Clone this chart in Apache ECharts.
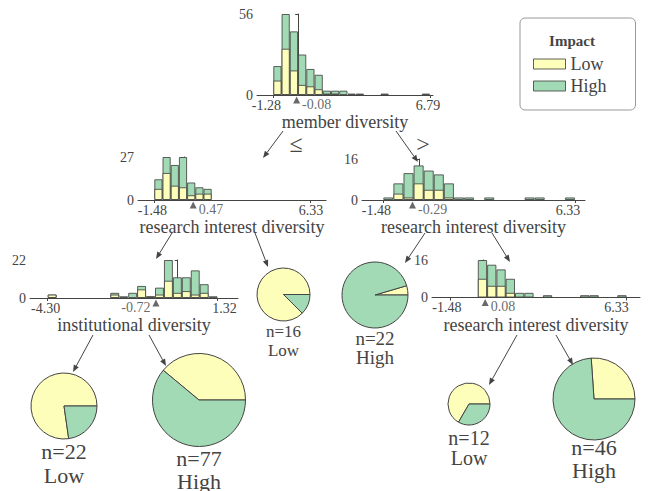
<!DOCTYPE html>
<html>
<head>
<meta charset="utf-8">
<script src="https://cdn.jsdelivr.net/npm/echarts@6/dist/echarts.min.js"></script>
<style>
html, body { margin: 0; padding: 0; background: #fff; }
#main { width: 648px; height: 491px; }
</style>
</head>
<body>
<div id="main"></div>
<script>
var BIN_COUNT = 19;

// root: member diversity
var rootRange = [-1.28, 6.79];
var rootSplit = -0.08;
var rootLow  = [10, 32, 17, 7, 6, 4, 1, 1, 0, 0, 0, 0, 0, 0, 0, 0, 0, 0, 0];
var rootHigh = [10, 24, 27, 21, 12, 10, 2, 2, 3, 1, 1, 0, 0, 1, 0, 0, 0, 0, 1];

// left child: research interest diversity
var leftRange = [-1.48, 6.33];
var leftSplit = 0.47;
var leftLow  = [7, 17, 9, 8, 3, 4, 4, 0, 0, 0, 0, 0, 0, 0, 0, 0, 0, 0, 0];
var leftHigh = [6, 10, 13, 19, 8, 4, 3, 0, 0, 0, 0, 0, 0, 0, 0, 0, 0, 0, 0];

// right child: research interest diversity
var rightRange = [-1.48, 6.33];
var rightSplit = -0.29;
var rightLow  = [0, 2.5, 1, 6.5, 4, 4, 1, 0, 0, 0, 0, 0, 0, 0, 0, 0, 0, 0, 0];
var rightHigh = [1, 4, 9.5, 7, 7.5, 6, 5.5, 1, 1, 0, 1, 0, 0, 0, 1, 1, 0, 0, 1];

// left-left: institutional diversity
var instRange = [-4.30, 1.32];
var instSplit = -0.72;
var instLow  = [2, 0, 0, 0, 0, 0, 0, 2, 0, 0, 5, 1, 2, 10, 3, 4, 2, 3, 0];
var instHigh = [0, 0, 0, 0, 0, 0, 0, 1, 1, 3, 2, 0, 4, 12, 9, 8, 14, 5, 1];

// right-right: research interest diversity
var rrRange = [-1.48, 6.33];
var rrSplit = 0.08;
var rrLow  = [0, 0, 0, 8, 5, 5, 2, 0, 0, 0, 0, 0, 0, 0, 0, 0, 0, 0, 0];
var rrHigh = [0, 0, 0, 8, 9, 7, 6, 2, 2, 0, 1, 0, 0, 0, 1, 1, 0, 0, 1];

// leaves
var leafLow   = [17, 30, 14, 1, 8, 12];
var leafHigh  = [5, 47, 2, 21, 4, 34];
var leafClass = ['Low', 'High', 'Low', 'High', 'Low', 'High'];

var INK = '#444443';
var EDGE = 'rgba(68,68,67,0.85)';
var YELLOW = '#fefebb';
var GREEN = '#a1dab4';
var FONT = "'Liberation Serif', 'DejaVu Serif', serif";

var nodes = [
  { feature: 'member diversity', range: rootRange, split: rootSplit, yMax: 56, low: rootLow, high: rootHigh },
  { feature: 'research interest diversity', range: leftRange, split: leftSplit, yMax: 27, low: leftLow, high: leftHigh },
  { feature: 'research interest diversity', range: rightRange, split: rightSplit, yMax: 16, low: rightLow, high: rightHigh },
  { feature: 'institutional diversity', range: instRange, split: instSplit, yMax: 22, low: instLow, high: instHigh },
  { feature: 'research interest diversity', range: rrRange, split: rrSplit, yMax: 16, low: rrLow, high: rrHigh }
];

// pixel layout of each histogram panel; shift = horizontal nudge of the min/max tick labels
var boxes = [
  { left: 257, right: 433, top: 14, bottom: 95, loPx: 273.3, hiPx: 430, nameGap: 13, side: 'right', shift: [-7, -2] },
  { left: 138, right: 326, top: 157, bottom: 200, loPx: 154.3, hiPx: 310.1, nameGap: 15, side: 'right', shift: [-2, 1] },
  { left: 362, right: 585, top: 159, bottom: 200, loPx: 383.3, hiPx: 575, nameGap: 16, side: 'right', shift: [-7, -7] },
  { left: 30, right: 238, top: 260, bottom: 298, loPx: 47.7, hiPx: 217.6, nameGap: 16, side: 'left', shift: [-2, 7] },
  { left: 432, right: 640, top: 260, bottom: 297.5, loPx: 449.9, hiPx: 626.6, nameGap: 18, side: 'right', shift: [-3, -10] }
];

// leaf order: n=22 Low, n=77 High, n=16 Low, n=22 High, n=12 Low, n=46 High
var pieBoxes = [
  { cx: 64, cy: 406, r: 33, ty: 439, fs: 22, lh: 24 },
  { cx: 199, cy: 400, r: 46.5, ty: 447, fs: 22, lh: 23 },
  { cx: 283.5, cy: 294.5, r: 26.5, ty: 322, fs: 17, lh: 19 },
  { cx: 375, cy: 295, r: 33, ty: 329, fs: 19, lh: 19 },
  { cx: 469, cy: 404, r: 21, ty: 428, fs: 20, lh: 20 },
  { cx: 594, cy: 399, r: 41, ty: 436, fs: 22, lh: 23 }
];

var arrows = [
  [283, 131, 263, 158], [396, 131, 418, 162],
  [172, 233, 156, 259], [255, 233, 268, 267],
  [425, 233, 405, 263], [492, 233, 510, 262],
  [93, 335, 73, 372], [149, 335, 166, 366],
  [517, 335, 489, 385], [556, 335, 573, 365]
];

function arrow(x1, y1, x2, y2) {
  var a = Math.atan2(y2 - y1, x2 - x1), L = 7, W = 2.8;
  var bx = x2 - L * Math.cos(a), by = y2 - L * Math.sin(a);
  var px = -Math.sin(a) * W, py = Math.cos(a) * W;
  return [
    { type: 'line', silent: true, shape: { x1: x1, y1: y1, x2: bx, y2: by }, style: { stroke: INK, lineWidth: 1 } },
    { type: 'polygon', silent: true, shape: { points: [[x2, y2], [bx + px, by + py], [bx - px, by - py]] }, style: { fill: INK } }
  ];
}

function nudge(d) {
  // rich padding that moves a centred label by d pixels
  return { fontFamily: FONT, fontSize: 14, color: INK, padding: d < 0 ? [0, -2 * d, 0, 0] : [0, 0, 0, 2 * d] };
}

var grids = [], xAxes = [], yAxes = [], series = [];

nodes.forEach(function (n, i) {
  var b = boxes[i];
  var s = (n.range[1] - n.range[0]) / (b.hiPx - b.loPx);
  var step = (n.range[1] - n.range[0]) / BIN_COUNT;
  var barW = (b.hiPx - b.loPx) / BIN_COUNT;
  var centers = n.low.map(function (v, k) { return n.range[0] + (k + 0.5) * step; });

  grids.push({ left: b.left, top: b.top, width: b.right - b.left, height: b.bottom - b.top, outerBoundsMode: 'none' });

  xAxes.push({
    gridIndex: i, type: 'value',
    min: n.range[0] - (b.loPx - b.left) * s,
    max: n.range[1] + (b.right - b.hiPx) * s,
    name: n.feature, nameLocation: 'middle', nameGap: b.nameGap,
    nameTextStyle: { fontFamily: FONT, fontSize: 18, color: INK },
    axisLine: { show: true, onZero: false, lineStyle: { color: INK, width: 1 } },
    axisTick: { show: true, customValues: n.range, length: 3, lineStyle: { color: INK } },
    axisLabel: {
      customValues: n.range, margin: 3, fontFamily: FONT, fontSize: 14, color: INK,
      formatter: function (v) { return (v === n.range[0] ? '{lo|' : '{hi|') + v.toFixed(2) + '}'; },
      rich: { lo: nudge(b.shift[0]), hi: nudge(b.shift[1]) }
    },
    splitLine: { show: false }
  });

  yAxes.push({
    gridIndex: i, type: 'value', min: 0, max: n.yMax, interval: n.yMax,
    axisLine: { show: true, lineStyle: { color: INK, width: 1 } },
    axisTick: { show: true, length: 3, lineStyle: { color: INK } },
    axisLabel: { margin: 4, fontFamily: FONT, fontSize: 14, color: INK },
    splitLine: { show: false }
  });

  series.push({
    type: 'bar', name: 'High', xAxisIndex: i, yAxisIndex: i, barWidth: barW, barGap: '-100%', silent: true,
    itemStyle: { color: GREEN, borderColor: EDGE, borderWidth: 1 },
    data: n.high.map(function (v, k) { var t = v + n.low[k]; return t ? [centers[k], t] : '-'; })
  });
  series.push({
    type: 'bar', name: 'Low', xAxisIndex: i, yAxisIndex: i, barWidth: barW, barGap: '-100%', silent: true,
    itemStyle: { color: YELLOW, borderColor: EDGE, borderWidth: 1 },
    data: n.low.map(function (v, k) { return v ? [centers[k], v] : '-'; })
  });
  series.push({
    type: 'scatter', xAxisIndex: i, yAxisIndex: i, clip: false, silent: true, z: 5,
    symbol: 'triangle', symbolSize: 7, symbolOffset: [0, 5],
    itemStyle: { color: INK },
    label: { show: true, position: b.side, distance: 2, offset: [0, 4],
      formatter: n.split.toFixed(2), fontFamily: FONT, fontSize: 14, color: INK },
    data: [[n.split, 0]]
  });
});

var graphic = [];
arrows.forEach(function (a) { graphic = graphic.concat(arrow(a[0], a[1], a[2], a[3])); });
graphic.push({ type: 'text', x: 296, y: 144, silent: true,
  style: { text: '≤', fill: INK, fontFamily: FONT, fontSize: 24, align: 'center', verticalAlign: 'middle' } });
graphic.push({ type: 'text', x: 423, y: 144, silent: true,
  style: { text: '>', fill: INK, fontFamily: FONT, fontSize: 24, align: 'center', verticalAlign: 'middle' } });
graphic.push({ type: 'text', x: 572, y: 41, silent: true,
  style: { text: 'Impact', fill: INK, fontFamily: FONT, fontSize: 15, fontWeight: 'bold', align: 'center', verticalAlign: 'middle' } });

pieBoxes.forEach(function (p, k) {
  series.push({
    type: 'pie', center: [p.cx, p.cy], radius: p.r, startAngle: 0, clockwise: false, silent: true,
    label: { show: false }, labelLine: { show: false },
    itemStyle: { borderColor: INK, borderWidth: 1 },
    data: [
      { name: 'Low', value: leafLow[k], itemStyle: { color: YELLOW } },
      { name: 'High', value: leafHigh[k], itemStyle: { color: GREEN } }
    ]
  });
  graphic.push({ type: 'text', x: p.cx, y: p.ty, silent: true,
    style: { text: 'n=' + (leafLow[k] + leafHigh[k]) + '\n' + leafClass[k], fill: INK, fontFamily: FONT,
      fontSize: p.fs, lineHeight: p.lh, align: 'center', verticalAlign: 'top' } });
});

var chart = echarts.init(document.getElementById('main'), null, { renderer: 'svg' });
chart.setOption({
  animation: false,
  backgroundColor: '#fff',
  textStyle: { fontFamily: FONT, color: INK },
  legend: {
    data: ['Low', 'High'], orient: 'vertical', left: 520, top: 18,
    padding: [37, 29, 15, 13], itemGap: 4, itemWidth: 32, itemHeight: 10, icon: 'rect',
    borderColor: '#999', borderWidth: 1, borderRadius: 5, selectedMode: false,
    itemStyle: { borderColor: EDGE, borderWidth: 1 },
    textStyle: { fontFamily: FONT, fontSize: 18, color: INK }
  },
  grid: grids,
  xAxis: xAxes,
  yAxis: yAxes,
  series: series,
  graphic: graphic
});
</script>
</body>
</html>
